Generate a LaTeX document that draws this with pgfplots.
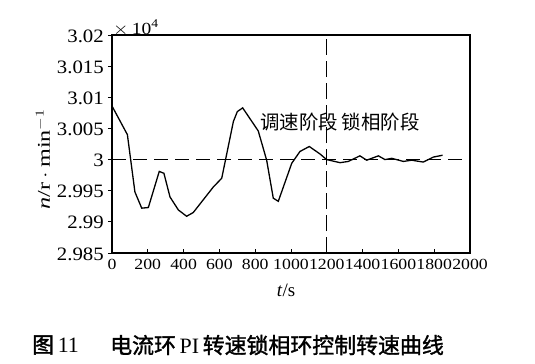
\documentclass[border=0pt]{standalone}
\usepackage{pgfplots}
\pgfplotsset{compat=1.18}
\usepackage{fontspec}
\setmainfont{Liberation Serif}
\newfontfamily\cjk{Noto Sans CJK SC}
\newfontfamily\cjkb[FakeBold=1.5]{Noto Sans CJK SC}
\newcommand\yl[1]{\scalebox{1.1}[1]{#1}}
\newcommand\xl[1]{\scalebox{1.15}[1]{#1}}
\pgfplotstableread{
x y
0 3.0086
86 3.0040
128 2.9948
166 2.9922
203 2.9923
264 2.9981
290 2.9978
324 2.9940
371 2.9919
417 2.9909
454 2.9915
566 2.9956
613 2.9970
678 3.0061
700 3.0077
730 3.0083
817 3.0046
864 2.9999
901 2.9938
929 2.9933
1004 2.9994
1050 3.0013
1102 3.0021
1162 3.0009
1199 3.0000
1274 2.9995
1320 2.9997
1385 3.0006
1423 2.9999
1488 3.0006
1525 3.0000
1563 3.0002
1628 2.9997
1674 2.9999
1739 2.9996
1795 3.0004
1847 3.0007
}\speed
\begin{document}
\begin{tikzpicture}[x=1bp,y=1bp]
\path[use as bounding box] (-112,-110) rectangle (423,253);
\begin{axis}[
  at={(0,0)}, anchor=south west,
  scale only axis, width=358bp, height=218bp,
  xmin=0, xmax=2000, ymin=2.985, ymax=3.02,
  axis line style={line width=1.1pt},
  tick align=inside, tick pos=left,
  major tick length=4bp,
  tick style={line width=0.8pt, black},
  y tick style={xshift=-4bp},
  xtick={0,200,...,2000},
  xticklabels={\xl{0},\xl{200},\xl{400},\xl{600},\xl{800},\xl{1000},\xl{1200},\xl{1400},\xl{1600},\xl{1800},\xl{2000}},
  ytick={2.985,2.99,2.995,3,3.005,3.01,3.015,3.02},
  yticklabels={\yl{2.985},\yl{2.99},\yl{2.995},\yl{3},\yl{3.005},\yl{3.01},\yl{3.015},\yl{3.02}},
  xticklabel style={font=\fontsize{15.5}{15.5}\selectfont, inner sep=0pt, yshift=-6bp},
  yticklabel style={font=\fontsize{19}{19}\selectfont, inner sep=0pt, xshift=-8bp, yshift=-1bp},
  clip=false,
]
\addplot[black, line width=1.1pt, dash pattern=on 14bp off 7bp] coordinates {(0,3) (2000,3)};
\addplot[black, line width=1.1pt, dash pattern=on 16bp off 6bp] coordinates {(1200,2.985) (1200,3.02)};
\addplot[black, line width=1.3pt] table[x=x,y=y] {\speed};
\node[anchor=west, inner sep=0pt, font=\cjk\fontsize{19.5}{19.5}\selectfont] at (axis cs:827,3.006) {调速阶段\hspace{4bp}锁相阶段};
\end{axis}
\node[anchor=base west, inner sep=0pt, font=\fontsize{17}{17}\selectfont] at (1,219) {\scalebox{1.15}[1]{$\times$\,10\textsuperscript{4}}};
\node[rotate=90, inner sep=0pt, font=\fontsize{18}{18}\selectfont] at (-69,94) {\scalebox{1.35}[1]{\textit{n}/r\,$\cdot$\,min$^{-1}$}};
\node[inner sep=0pt, font=\fontsize{19}{19}\selectfont] at (174,-37) {\textit{t}/s};
\node[anchor=west, inner sep=0pt, font=\fontsize{22}{22}\selectfont] at (-80,-92) {{\cjkb 图}\,11};
\node[anchor=west, inner sep=0pt, font=\fontsize{22}{22}\selectfont] at (-2,-92) {{\cjkb 电流环}\,PI\,{\cjkb 转速锁相环控制转速曲线}};
\end{tikzpicture}
\end{document}
